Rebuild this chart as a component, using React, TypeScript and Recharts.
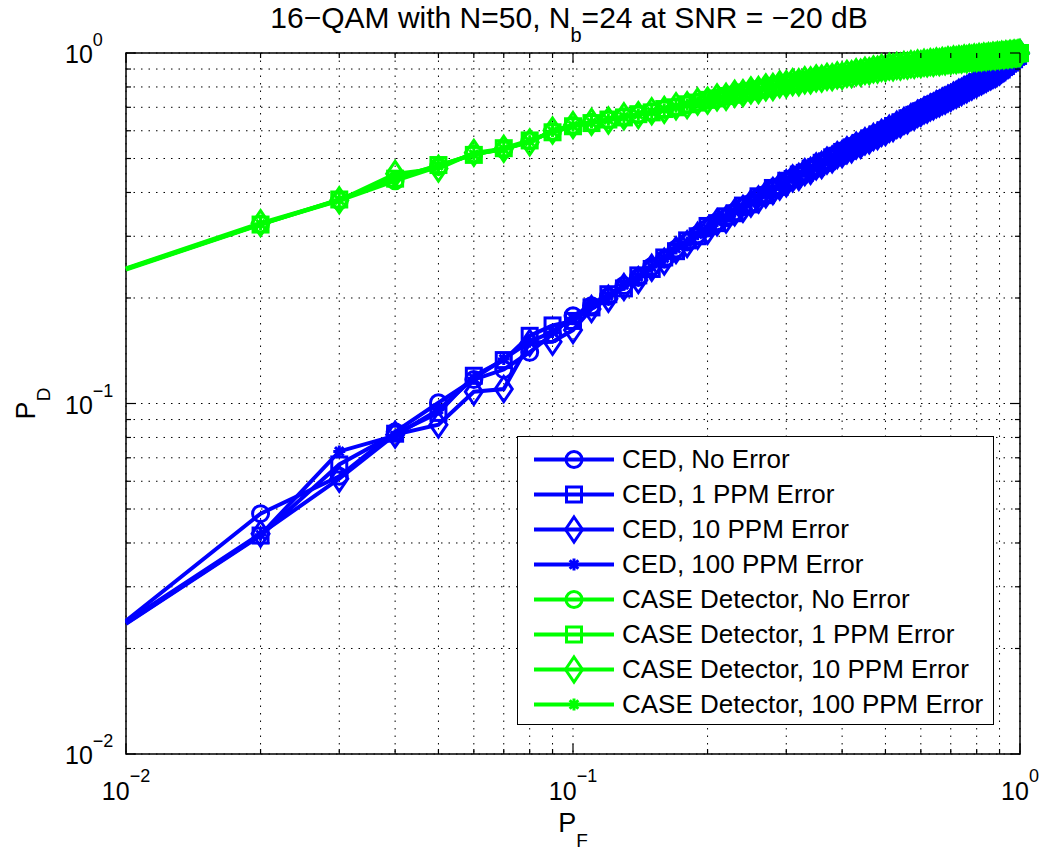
import React from 'react';
import {
  LineChart,
  Line,
  XAxis,
  YAxis,
  CartesianGrid,
  Legend,
  ReferenceArea,
} from 'recharts';

// false-alarm probabilities (x), one point per 0.01
const PF = [
  0.01, 0.02, 0.03, 0.04, 0.05, 0.06, 0.07, 0.08, 0.09, 0.1,
  0.11, 0.12, 0.13, 0.14, 0.15, 0.16, 0.17, 0.18, 0.19, 0.2,
  0.21, 0.22, 0.23, 0.24, 0.25, 0.26, 0.27, 0.28, 0.29, 0.3,
  0.31, 0.32, 0.33, 0.34, 0.35, 0.36, 0.37, 0.38, 0.39, 0.4,
  0.41, 0.42, 0.43, 0.44, 0.45, 0.46, 0.47, 0.48, 0.49, 0.5,
  0.51, 0.52, 0.53, 0.54, 0.55, 0.56, 0.57, 0.58, 0.59, 0.6,
  0.61, 0.62, 0.63, 0.64, 0.65, 0.66, 0.67, 0.68, 0.69, 0.7,
  0.71, 0.72, 0.73, 0.74, 0.75, 0.76, 0.77, 0.78, 0.79, 0.8,
  0.81, 0.82, 0.83, 0.84, 0.85, 0.86, 0.87, 0.88, 0.89, 0.9,
  0.91, 0.92, 0.93, 0.94, 0.95, 0.96, 0.97, 0.98, 0.99, 1.0,
];

// detection probabilities
const CED_NO_ERROR = [
  0.024, 0.0485, 0.062, 0.083, 0.1005, 0.117, 0.125, 0.14, 0.158, 0.178,
  0.19, 0.202, 0.217, 0.229, 0.246, 0.258, 0.276, 0.289, 0.303, 0.317,
  0.33, 0.339, 0.352, 0.364, 0.373, 0.387, 0.396, 0.409, 0.417, 0.429,
  0.44, 0.447, 0.458, 0.465, 0.476, 0.483, 0.494, 0.501, 0.512, 0.519,
  0.529, 0.535, 0.545, 0.551, 0.561, 0.568, 0.577, 0.583, 0.593, 0.599,
  0.609, 0.616, 0.625, 0.631, 0.641, 0.648, 0.657, 0.663, 0.672, 0.679,
  0.687, 0.693, 0.701, 0.708, 0.715, 0.721, 0.729, 0.736, 0.742, 0.749,
  0.757, 0.763, 0.771, 0.777, 0.785, 0.791, 0.799, 0.805, 0.813, 0.819,
  0.827, 0.834, 0.84, 0.847, 0.854, 0.861, 0.868, 0.874, 0.882, 0.889,
  0.899, 0.909, 0.92, 0.93, 0.941, 0.951, 0.962, 0.973, 0.984, 1.0,
];
const CED_1PPM = [
  0.0235, 0.042, 0.067, 0.082, 0.094, 0.12, 0.133, 0.156, 0.167, 0.172,
  0.188, 0.205, 0.213, 0.232, 0.242, 0.261, 0.272, 0.292, 0.3, 0.321,
  0.327, 0.342, 0.349, 0.367, 0.37, 0.39, 0.393, 0.412, 0.415, 0.432,
  0.437, 0.45, 0.455, 0.468, 0.473, 0.486, 0.491, 0.504, 0.509, 0.522,
  0.526, 0.538, 0.542, 0.554, 0.558, 0.571, 0.574, 0.586, 0.59, 0.602,
  0.606, 0.619, 0.622, 0.634, 0.638, 0.651, 0.654, 0.666, 0.669, 0.682,
  0.685, 0.696, 0.699, 0.711, 0.713, 0.724, 0.727, 0.739, 0.74, 0.752,
  0.755, 0.766, 0.769, 0.78, 0.783, 0.794, 0.797, 0.808, 0.811, 0.822,
  0.825, 0.837, 0.838, 0.85, 0.852, 0.864, 0.866, 0.877, 0.88, 0.892,
  0.897, 0.912, 0.918, 0.933, 0.939, 0.954, 0.96, 0.975, 0.981, 0.999,
];
const CED_10PPM = [
  0.0238, 0.0425, 0.061, 0.0815, 0.087, 0.108, 0.11, 0.149, 0.15, 0.162,
  0.186, 0.199, 0.215, 0.225, 0.244, 0.254, 0.274, 0.285, 0.301, 0.311,
  0.329, 0.335, 0.351, 0.359, 0.372, 0.382, 0.395, 0.404, 0.416, 0.425,
  0.439, 0.443, 0.457, 0.461, 0.475, 0.479, 0.493, 0.497, 0.511, 0.515,
  0.528, 0.531, 0.544, 0.547, 0.56, 0.563, 0.576, 0.579, 0.592, 0.595,
  0.608, 0.611, 0.624, 0.627, 0.64, 0.643, 0.656, 0.659, 0.671, 0.675,
  0.686, 0.69, 0.7, 0.704, 0.714, 0.718, 0.728, 0.732, 0.741, 0.745,
  0.756, 0.76, 0.77, 0.774, 0.784, 0.788, 0.798, 0.802, 0.812, 0.816,
  0.826, 0.83, 0.839, 0.844, 0.853, 0.858, 0.867, 0.871, 0.881, 0.885,
  0.898, 0.906, 0.919, 0.927, 0.94, 0.947, 0.961, 0.969, 0.982, 0.998,
];
const CED_100PPM = [
  0.0236, 0.0422, 0.073, 0.081, 0.096, 0.118, 0.134, 0.15, 0.16, 0.175,
  0.192, 0.203, 0.218, 0.23, 0.245, 0.26, 0.277, 0.288, 0.304, 0.316,
  0.331, 0.34, 0.353, 0.363, 0.374, 0.386, 0.397, 0.408, 0.418, 0.428,
  0.441, 0.446, 0.459, 0.464, 0.477, 0.482, 0.495, 0.5, 0.513, 0.518,
  0.53, 0.534, 0.546, 0.55, 0.562, 0.566, 0.578, 0.582, 0.594, 0.598,
  0.61, 0.614, 0.626, 0.63, 0.642, 0.646, 0.658, 0.662, 0.673, 0.677,
  0.688, 0.692, 0.702, 0.706, 0.716, 0.72, 0.73, 0.733, 0.743, 0.747,
  0.758, 0.762, 0.772, 0.776, 0.786, 0.79, 0.8, 0.804, 0.814, 0.818,
  0.828, 0.832, 0.841, 0.846, 0.855, 0.859, 0.869, 0.873, 0.883, 0.887,
  0.9, 0.908, 0.921, 0.929, 0.942, 0.949, 0.963, 0.971, 0.984, 1.0,
];
const CASE_NO_ERROR = [
  0.242, 0.325, 0.379, 0.432, 0.474, 0.516, 0.53, 0.561, 0.597, 0.621,
  0.634, 0.644, 0.658, 0.667, 0.68, 0.69, 0.703, 0.712, 0.725, 0.733,
  0.745, 0.752, 0.763, 0.77, 0.78, 0.786, 0.796, 0.802, 0.812, 0.817,
  0.824, 0.827, 0.834, 0.837, 0.844, 0.847, 0.853, 0.855, 0.861, 0.863,
  0.87, 0.872, 0.879, 0.881, 0.888, 0.89, 0.896, 0.899, 0.905, 0.907,
  0.912, 0.912, 0.917, 0.917, 0.922, 0.922, 0.927, 0.927, 0.932, 0.932,
  0.936, 0.936, 0.94, 0.94, 0.944, 0.944, 0.948, 0.948, 0.952, 0.952,
  0.956, 0.956, 0.959, 0.959, 0.963, 0.962, 0.966, 0.966, 0.969, 0.969,
  0.972, 0.972, 0.975, 0.975, 0.978, 0.978, 0.981, 0.981, 0.984, 0.984,
  0.987, 0.987, 0.99, 0.99, 0.993, 0.993, 0.996, 0.996, 0.999, 1.0,
];
const CASE_1PPM = [
  0.241, 0.324, 0.382, 0.438, 0.479, 0.512, 0.535, 0.563, 0.594, 0.618,
  0.631, 0.646, 0.655, 0.669, 0.677, 0.692, 0.7, 0.714, 0.722, 0.735,
  0.742, 0.754, 0.76, 0.772, 0.777, 0.788, 0.793, 0.804, 0.809, 0.819,
  0.821, 0.829, 0.831, 0.839, 0.841, 0.849, 0.85, 0.857, 0.858, 0.865,
  0.867, 0.874, 0.876, 0.883, 0.885, 0.892, 0.893, 0.901, 0.902, 0.909,
  0.909, 0.914, 0.914, 0.919, 0.919, 0.924, 0.924, 0.929, 0.929, 0.934,
  0.933, 0.938, 0.937, 0.942, 0.941, 0.946, 0.945, 0.95, 0.949, 0.954,
  0.953, 0.958, 0.956, 0.961, 0.96, 0.964, 0.963, 0.968, 0.966, 0.971,
  0.969, 0.974, 0.972, 0.977, 0.975, 0.98, 0.978, 0.983, 0.981, 0.986,
  0.984, 0.989, 0.987, 0.992, 0.99, 0.995, 0.993, 0.998, 0.996, 1.0,
];
const CASE_10PPM = [
  0.243, 0.327, 0.38, 0.452, 0.468, 0.519, 0.533, 0.556, 0.601, 0.623,
  0.636, 0.642, 0.66, 0.665, 0.682, 0.688, 0.705, 0.71, 0.727, 0.731,
  0.747, 0.75, 0.765, 0.768, 0.782, 0.784, 0.798, 0.8, 0.814, 0.815,
  0.826, 0.825, 0.836, 0.835, 0.846, 0.845, 0.855, 0.853, 0.863, 0.861,
  0.872, 0.87, 0.881, 0.879, 0.89, 0.888, 0.898, 0.897, 0.907, 0.905,
  0.914, 0.91, 0.919, 0.915, 0.924, 0.92, 0.929, 0.925, 0.934, 0.93,
  0.938, 0.934, 0.942, 0.938, 0.946, 0.942, 0.95, 0.946, 0.954, 0.95,
  0.958, 0.954, 0.961, 0.957, 0.965, 0.96, 0.968, 0.964, 0.971, 0.967,
  0.974, 0.97, 0.977, 0.973, 0.98, 0.976, 0.983, 0.979, 0.986, 0.982,
  0.989, 0.985, 0.992, 0.988, 0.995, 0.991, 0.998, 0.994, 0.999, 1.0,
];
const CASE_100PPM = [
  0.242, 0.325, 0.381, 0.44, 0.477, 0.514, 0.532, 0.56, 0.598, 0.62,
  0.633, 0.645, 0.657, 0.668, 0.679, 0.691, 0.702, 0.713, 0.724, 0.734,
  0.744, 0.753, 0.762, 0.771, 0.779, 0.787, 0.795, 0.803, 0.811, 0.818,
  0.823, 0.828, 0.833, 0.838, 0.843, 0.848, 0.852, 0.856, 0.86, 0.864,
  0.869, 0.873, 0.878, 0.882, 0.887, 0.891, 0.895, 0.9, 0.904, 0.908,
  0.911, 0.913, 0.916, 0.918, 0.921, 0.923, 0.926, 0.928, 0.931, 0.933,
  0.935, 0.937, 0.939, 0.941, 0.943, 0.945, 0.947, 0.949, 0.951, 0.953,
  0.955, 0.957, 0.958, 0.96, 0.962, 0.963, 0.965, 0.967, 0.968, 0.97,
  0.971, 0.973, 0.974, 0.976, 0.977, 0.979, 0.98, 0.982, 0.983, 0.985,
  0.986, 0.988, 0.989, 0.991, 0.992, 0.994, 0.995, 0.997, 0.998, 1.0,
];

const LOG_TICKS = [
  0.01, 0.02, 0.03, 0.04, 0.05, 0.06, 0.07, 0.08, 0.09,
  0.1, 0.2, 0.3, 0.4, 0.5, 0.6, 0.7, 0.8, 0.9, 1,
];
const DECADE_EXP: Record<string, string> = { '0.01': '\u22122', '0.1': '\u22121', '1': '0' };

const BLUE = '#0000ff';
const GREEN = '#00ff00';
const FONT = "'Liberation Sans', Arial, Helvetica, sans-serif";

type Marker = 'circle' | 'square' | 'diamond' | 'star';

const SERIES: { key: string; name: string; color: string; marker: Marker; values: number[] }[] = [
  { key: 'cedNo', name: 'CED, No Error', color: BLUE, marker: 'circle', values: CED_NO_ERROR },
  { key: 'ced1', name: 'CED, 1 PPM Error', color: BLUE, marker: 'square', values: CED_1PPM },
  { key: 'ced10', name: 'CED, 10 PPM Error', color: BLUE, marker: 'diamond', values: CED_10PPM },
  { key: 'ced100', name: 'CED, 100 PPM Error', color: BLUE, marker: 'star', values: CED_100PPM },
  { key: 'caseNo', name: 'CASE Detector, No Error', color: GREEN, marker: 'circle', values: CASE_NO_ERROR },
  { key: 'case1', name: 'CASE Detector, 1 PPM Error', color: GREEN, marker: 'square', values: CASE_1PPM },
  { key: 'case10', name: 'CASE Detector, 10 PPM Error', color: GREEN, marker: 'diamond', values: CASE_10PPM },
  { key: 'case100', name: 'CASE Detector, 100 PPM Error', color: GREEN, marker: 'star', values: CASE_100PPM },
];

const rows = PF.map((pf, i) => {
  const row: Record<string, number> = { pf };
  SERIES.forEach((s) => {
    row[s.key] = s.values[i];
  });
  return row;
});

// layout
const W = 1048;
const H = 852;
const MARGIN = { top: 53, right: 28, bottom: 38, left: 66 };
const Y_W = 60;
const X_H = 60;
const PLOT_LEFT = MARGIN.left + Y_W;
const PLOT_RIGHT = W - MARGIN.right;
const PLOT_TOP = MARGIN.top;
const PLOT_BOTTOM = H - MARGIN.bottom - X_H;

function MarkerShape({ type, cx, cy, color }: { type: Marker; cx: number; cy: number; color: string }) {
  const sw = 3;
  if (type === 'circle') {
    return <circle cx={cx} cy={cy} r={8} fill="none" stroke={color} strokeWidth={sw} />;
  }
  if (type === 'square') {
    return <rect x={cx - 7.5} y={cy - 7.5} width={15} height={15} fill="none" stroke={color} strokeWidth={sw} />;
  }
  if (type === 'diamond') {
    return (
      <path
        d={`M${cx} ${cy - 12.5}L${cx + 8.5} ${cy}L${cx} ${cy + 12.5}L${cx - 8.5} ${cy}Z`}
        fill="none"
        stroke={color}
        strokeWidth={sw}
      />
    );
  }
  const r = 6;
  const d = 4.3;
  return (
    <path
      d={`M${cx - r} ${cy}H${cx + r}M${cx} ${cy - r}V${cy + r}M${cx - d} ${cy - d}L${cx + d} ${cy + d}M${cx - d} ${cy + d}L${cx + d} ${cy - d}`}
      stroke={color}
      strokeWidth={sw}
    />
  );
}

// no marker at the left axis edge, as in the source figure
const makeDot = (marker: Marker, color: string, key: string) => (p: any) => {
  const { cx, cy, index } = p;
  if (index === 0 || cx == null || cy == null) return <g key={`${key}-${index}`} />;
  return (
    <g key={`${key}-${index}`}>
      <MarkerShape type={marker} cx={cx} cy={cy} color={color} />
    </g>
  );
};

const XTick = (props: any) => {
  const { x, payload } = props;
  const exp = DECADE_EXP[String(payload.value)];
  const len = exp ? 10 : 5;
  return (
    <g>
      <line x1={x} x2={x} y1={PLOT_BOTTOM} y2={PLOT_BOTTOM - len} stroke="#000" strokeWidth={1.2} />
      <line x1={x} x2={x} y1={PLOT_TOP} y2={PLOT_TOP + len} stroke="#000" strokeWidth={1.2} />
      {exp && (
        <text x={x} y={PLOT_BOTTOM + 46} textAnchor="middle" fontFamily={FONT} fontSize={25} fill="#000">
          10
          <tspan dy={-18} fontSize={18}>
            {exp}
          </tspan>
        </text>
      )}
    </g>
  );
};

const YTick = (props: any) => {
  const { y, payload } = props;
  const exp = DECADE_EXP[String(payload.value)];
  const len = exp ? 10 : 5;
  return (
    <g>
      <line x1={PLOT_LEFT} x2={PLOT_LEFT + len} y1={y} y2={y} stroke="#000" strokeWidth={1.2} />
      <line x1={PLOT_RIGHT} x2={PLOT_RIGHT - len} y1={y} y2={y} stroke="#000" strokeWidth={1.2} />
      {exp && (
        <text x={65} y={y + 10} textAnchor="start" fontFamily={FONT} fontSize={25} fill="#000">
          10
          <tspan dy={-17} fontSize={18}>
            {exp}
          </tspan>
        </text>
      )}
    </g>
  );
};

const renderLegend = () => (
  <div
    style={{
      width: 477,
      height: 289,
      boxSizing: 'border-box',
      border: '1.5px solid #000',
      background: '#fff',
      paddingTop: 5,
    }}
  >
    {SERIES.map((s) => (
      <div key={s.key} style={{ display: 'flex', alignItems: 'center', height: 35 }}>
        <svg width={104} height={35} style={{ flex: 'none' }}>
          <line x1={16} x2={96} y1={17.5} y2={17.5} stroke={s.color} strokeWidth={4} />
          <MarkerShape type={s.marker} cx={56} cy={17.5} color={s.color} />
        </svg>
        <span style={{ fontFamily: FONT, fontSize: 26, color: '#000', whiteSpace: 'nowrap' }}>{s.name}</span>
      </div>
    ))}
  </div>
);

export default function App() {
  const cx = (PLOT_LEFT + PLOT_RIGHT) / 2;
  const cy = (PLOT_TOP + PLOT_BOTTOM) / 2;
  return (
    <div style={{ position: 'absolute', left: 0, top: 0, width: W, height: H, background: '#fff' }}>
      <LineChart width={W} height={H} data={rows} margin={MARGIN}>
        <CartesianGrid stroke="#000" strokeWidth={1} strokeDasharray="1.5 6" />
        <XAxis
          dataKey="pf"
          type="number"
          scale="log"
          domain={[0.01, 1]}
          ticks={LOG_TICKS}
          interval={0}
          tick={XTick}
          tickLine={false}
          axisLine={false}
          height={X_H}
        />
        <YAxis
          type="number"
          scale="log"
          domain={[0.01, 1]}
          ticks={LOG_TICKS}
          interval={0}
          tick={YTick}
          tickLine={false}
          axisLine={false}
          width={Y_W}
        />
        <ReferenceArea x1={0.01} x2={1} y1={0.01} y2={1} fill="none" stroke="#000" strokeWidth={1.5} />
        {SERIES.map((s) => (
          <Line
            key={s.key}
            dataKey={s.key}
            name={s.name}
            type="linear"
            stroke={s.color}
            strokeWidth={4}
            dot={makeDot(s.marker, s.color, s.key)}
            activeDot={false}
            isAnimationActive={false}
          />
        ))}
        <Legend
          layout="vertical"
          align="center"
          verticalAlign="middle"
          wrapperStyle={{ left: 517, top: 436, width: 477, height: 289 }}
          content={renderLegend}
        />
      </LineChart>
      <svg width={W} height={H} style={{ position: 'absolute', left: 0, top: 0, pointerEvents: 'none' }}>
        <text x={cx - 4} y={28} textAnchor="middle" fontFamily={FONT} fontSize={30} fill="#000">
          16{'\u2212'}QAM with N=50, N
          <tspan dy={14} fontSize={20}>
            b
          </tspan>
          <tspan dy={-14}>=24 at SNR = {'\u2212'}20 dB</tspan>
        </text>
        <text x={cx} y={832} textAnchor="middle" fontFamily={FONT} fontSize={27} fill="#000">
          P
          <tspan dy={15} fontSize={19}>
            F
          </tspan>
        </text>
        <text
          transform={`translate(35 ${cy}) rotate(-90)`}
          textAnchor="middle"
          fontFamily={FONT}
          fontSize={27}
          fill="#000"
        >
          P
          <tspan dy={15} fontSize={19}>
            D
          </tspan>
        </text>
      </svg>
    </div>
  );
}
